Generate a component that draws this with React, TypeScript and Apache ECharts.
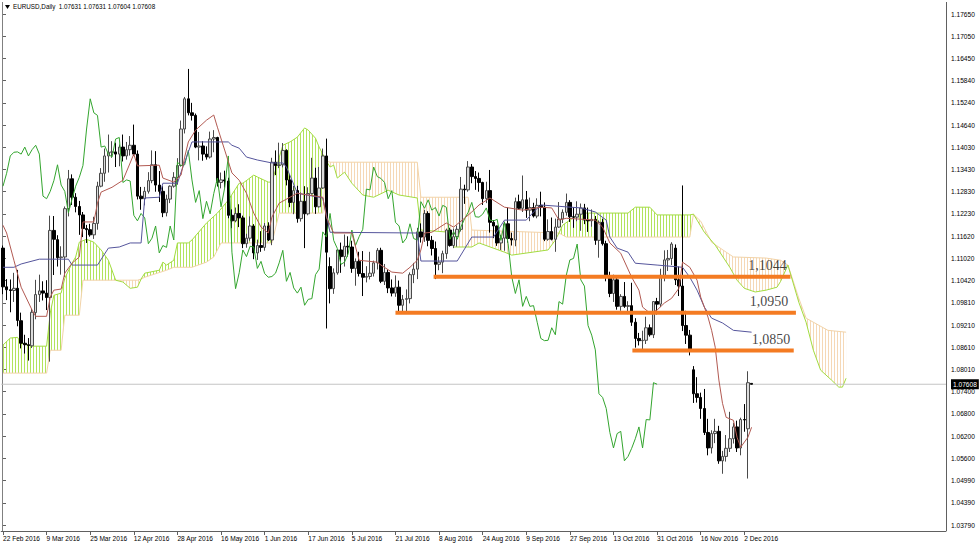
import React, { useEffect, useRef } from "react";
import * as echarts from "echarts";

// x-axis labels every 12 trading days starting 22 Feb 2016
const tickLabels = [
  "22 Feb 2016", "9 Mar 2016", "25 Mar 2016", "12 Apr 2016", "28 Apr 2016", "16 May 2016",
  "1 Jun 2016", "17 Jun 2016", "5 Jul 2016", "21 Jul 2016", "8 Aug 2016", "24 Aug 2016",
  "9 Sep 2016", "27 Sep 2016", "13 Oct 2016", "31 Oct 2016", "16 Nov 2016", "2 Dec 2016",
];
const TICK_STEP = 12;
const SLOT_COUNT = 260;

// right price scale labels (bottom to top)
const yTickLabels = [
  "1.03790", "1.04390", "1.04990", "1.05600", "1.06200", "1.06800", "1.07400", "1.08010",
  "1.08610", "1.09210", "1.09810", "1.10420", "1.11020", "1.11620", "1.12230", "1.12830",
  "1.13430", "1.14030", "1.14640", "1.15240", "1.15840", "1.16450", "1.17050", "1.17650",
];

// daily candles [open, high, low, close], 22 Feb 2016 .. 6 Dec 2016
const ohlc: number[][] = [
  [1.1130, 1.1137, 1.1005, 1.1025], [1.1025, 1.1046, 1.0989, 1.1017], [1.1017, 1.1045, 1.0956, 1.1015],
  [1.1015, 1.1063, 1.0984, 1.1021], [1.1021, 1.1071, 1.0918, 1.0934], [1.0933, 1.0955, 1.0858, 1.0872],
  [1.0872, 1.0895, 1.0844, 1.0868], [1.0868, 1.0886, 1.0825, 1.0866], [1.0865, 1.0965, 1.0859, 1.0956],
  [1.0955, 1.1044, 1.0937, 1.1004], [1.1004, 1.1058, 1.0984, 1.1014], [1.1014, 1.1040, 1.0988, 1.1008],
  [1.1008, 1.1043, 1.0962, 1.0996], [1.0996, 1.1218, 1.0822, 1.1178], [1.1178, 1.1217, 1.1057, 1.1154],
  [1.1153, 1.1165, 1.1080, 1.1104], [1.1104, 1.1135, 1.1058, 1.1106], [1.1106, 1.1243, 1.1052, 1.1237],
  [1.1237, 1.1342, 1.1216, 1.1318], [1.1318, 1.1330, 1.1247, 1.1268], [1.1268, 1.1279, 1.1227, 1.1243],
  [1.1243, 1.1258, 1.1166, 1.1220], [1.1220, 1.1228, 1.1160, 1.1183], [1.1183, 1.1193, 1.1144, 1.1180],
  [1.1180, 1.1196, 1.1161, 1.1166], [1.1166, 1.1215, 1.1155, 1.1197], [1.1197, 1.1310, 1.1180, 1.1298],
  [1.1298, 1.1347, 1.1295, 1.1333], [1.1333, 1.1400, 1.1310, 1.1380], [1.1380, 1.1438, 1.1335, 1.1390],
  [1.1390, 1.1420, 1.1375, 1.1391], [1.1391, 1.1416, 1.1350, 1.1385], [1.1385, 1.1411, 1.1352, 1.1404],
  [1.1404, 1.1438, 1.1365, 1.1380], [1.1380, 1.1418, 1.1370, 1.1397], [1.1397, 1.1434, 1.1381, 1.1409],
  [1.1409, 1.1465, 1.1380, 1.1385], [1.1385, 1.1395, 1.1262, 1.1271], [1.1271, 1.1296, 1.1234, 1.1264],
  [1.1264, 1.1296, 1.1246, 1.1284], [1.1284, 1.1336, 1.1278, 1.1313], [1.1313, 1.1395, 1.1306, 1.1356],
  [1.1356, 1.1393, 1.1283, 1.1301], [1.1301, 1.1339, 1.1255, 1.1284], [1.1284, 1.1298, 1.1214, 1.1226],
  [1.1226, 1.1275, 1.1216, 1.1263], [1.1263, 1.1300, 1.1252, 1.1298], [1.1298, 1.1336, 1.1294, 1.1322],
  [1.1322, 1.1374, 1.1302, 1.1354], [1.1354, 1.1476, 1.1351, 1.1453], [1.1453, 1.1540, 1.1441, 1.1535],
  [1.1535, 1.1616, 1.1490, 1.1497], [1.1497, 1.1524, 1.1476, 1.1490], [1.1490, 1.1495, 1.1401, 1.1404],
  [1.1404, 1.1445, 1.1368, 1.1407], [1.1407, 1.1420, 1.1367, 1.1385], [1.1385, 1.1406, 1.1370, 1.1377],
  [1.1377, 1.1446, 1.1373, 1.1426], [1.1426, 1.1450, 1.1390, 1.1430], [1.1430, 1.1432, 1.1297, 1.1308],
  [1.1308, 1.1335, 1.1292, 1.1315], [1.1315, 1.1340, 1.1294, 1.1312], [1.1312, 1.1321, 1.1211, 1.1219],
  [1.1219, 1.1235, 1.1184, 1.1204], [1.1204, 1.1240, 1.1200, 1.1224], [1.1224, 1.1249, 1.1187, 1.1212],
  [1.1212, 1.1218, 1.1130, 1.1142], [1.1142, 1.1169, 1.1131, 1.1157], [1.1157, 1.1216, 1.1150, 1.1190],
  [1.1190, 1.1195, 1.1100, 1.1117], [1.1117, 1.1153, 1.1098, 1.1137], [1.1137, 1.1176, 1.1120, 1.1132],
  [1.1132, 1.1198, 1.1123, 1.1190], [1.1190, 1.1200, 1.1149, 1.1152], [1.1152, 1.1375, 1.1138, 1.1363],
  [1.1363, 1.1395, 1.1328, 1.1354], [1.1354, 1.1416, 1.1347, 1.1356], [1.1356, 1.1415, 1.1349, 1.1395],
  [1.1395, 1.1398, 1.1300, 1.1315], [1.1315, 1.1331, 1.1241, 1.1254], [1.1254, 1.1299, 1.1222, 1.1286],
  [1.1286, 1.1299, 1.1199, 1.1210], [1.1210, 1.1281, 1.1202, 1.1257], [1.1257, 1.1298, 1.1130, 1.1223],
  [1.1223, 1.1295, 1.1219, 1.1278], [1.1278, 1.1375, 1.1275, 1.1320], [1.1320, 1.1348, 1.1223, 1.1242],
  [1.1242, 1.1350, 1.1240, 1.1293], [1.1293, 1.1400, 1.1291, 1.1380], [1.1380, 1.1427, 1.0912, 1.1119],
  [1.1080, 1.1105, 1.0980, 1.1020], [1.1020, 1.1075, 1.1006, 1.1063], [1.1063, 1.1127, 1.1058, 1.1125],
  [1.1125, 1.1145, 1.1063, 1.1107], [1.1107, 1.1167, 1.1080, 1.1135], [1.1135, 1.1162, 1.1107, 1.1133],
  [1.1133, 1.1150, 1.1063, 1.1075], [1.1075, 1.1102, 1.1028, 1.1094], [1.1094, 1.1120, 1.1053, 1.1061],
  [1.1061, 1.1122, 1.1000, 1.1051], [1.1051, 1.1081, 1.1037, 1.1053], [1.1053, 1.1120, 1.1045, 1.1062],
  [1.1062, 1.1096, 1.1053, 1.1090], [1.1090, 1.1130, 1.1072, 1.1124], [1.1124, 1.1131, 1.1035, 1.1040],
  [1.1040, 1.1087, 1.1030, 1.1064], [1.1064, 1.1072, 1.1008, 1.1022], [1.1022, 1.1045, 1.0999, 1.1008],
  [1.1008, 1.1056, 1.0998, 1.1024], [1.1024, 1.1042, 1.0953, 1.0975], [1.0975, 1.1003, 1.0955, 1.0991],
  [1.0991, 1.1018, 1.0952, 1.0993], [1.0993, 1.1064, 1.0980, 1.1058], [1.1058, 1.1090, 1.1035, 1.1073],
  [1.1073, 1.1185, 1.1046, 1.1174], [1.1174, 1.1197, 1.1145, 1.1160], [1.1160, 1.1234, 1.1147, 1.1224],
  [1.1224, 1.1230, 1.1135, 1.1151], [1.1151, 1.1163, 1.1110, 1.1129], [1.1129, 1.1148, 1.1046, 1.1086],
  [1.1086, 1.1107, 1.1070, 1.1092], [1.1092, 1.1123, 1.1062, 1.1115], [1.1115, 1.1183, 1.1101, 1.1179],
  [1.1179, 1.1185, 1.1134, 1.1137], [1.1137, 1.1183, 1.1130, 1.1161], [1.1161, 1.1191, 1.1134, 1.1181],
  [1.1181, 1.1323, 1.1175, 1.1290], [1.1290, 1.1302, 1.1250, 1.1288], [1.1288, 1.1366, 1.1283, 1.1350],
  [1.1350, 1.1358, 1.1306, 1.1324], [1.1324, 1.1339, 1.1288, 1.1319], [1.1319, 1.1335, 1.1283, 1.1308],
  [1.1308, 1.1310, 1.1247, 1.1264], [1.1264, 1.1310, 1.1252, 1.1286], [1.1286, 1.1342, 1.1172, 1.1200],
  [1.1200, 1.1206, 1.1157, 1.1190], [1.1190, 1.1191, 1.1136, 1.1144], [1.1144, 1.1166, 1.1125, 1.1157],
  [1.1157, 1.1202, 1.1123, 1.1196], [1.1196, 1.1240, 1.1145, 1.1156], [1.1156, 1.1172, 1.1137, 1.1152],
  [1.1152, 1.1267, 1.1135, 1.1256], [1.1256, 1.1275, 1.1235, 1.1238], [1.1238, 1.1327, 1.1228, 1.1261],
  [1.1261, 1.1285, 1.1212, 1.1233], [1.1233, 1.1267, 1.1203, 1.1240], [1.1240, 1.1253, 1.1213, 1.1217],
  [1.1217, 1.1265, 1.1211, 1.1246], [1.1246, 1.1283, 1.1216, 1.1241], [1.1241, 1.1254, 1.1149, 1.1154],
  [1.1154, 1.1208, 1.1150, 1.1175], [1.1175, 1.1213, 1.1151, 1.1154], [1.1154, 1.1210, 1.1120, 1.1187],
  [1.1187, 1.1255, 1.1185, 1.1209], [1.1209, 1.1235, 1.1198, 1.1227], [1.1227, 1.1278, 1.1218, 1.1254],
  [1.1254, 1.1260, 1.1201, 1.1215], [1.1215, 1.1241, 1.1185, 1.1214], [1.1214, 1.1257, 1.1203, 1.1222],
  [1.1222, 1.1251, 1.1177, 1.1239], [1.1239, 1.1250, 1.1195, 1.1206], [1.1206, 1.1240, 1.1174, 1.1204],
  [1.1204, 1.1235, 1.1188, 1.1208], [1.1208, 1.1217, 1.1139, 1.1151], [1.1151, 1.1205, 1.1104, 1.1200],
  [1.1200, 1.1210, 1.1137, 1.1142], [1.1142, 1.1150, 1.1040, 1.1052], [1.1052, 1.1066, 1.0997, 1.1007],
  [1.1007, 1.1058, 1.0984, 1.1044], [1.1044, 1.1050, 1.0963, 1.0972], [1.0972, 1.1005, 1.0960, 1.0999],
  [1.0999, 1.1038, 1.0968, 1.0972], [1.0972, 1.0986, 1.0951, 1.0974], [1.0974, 1.1036, 1.0919, 1.0929],
  [1.0929, 1.0940, 1.0860, 1.0885], [1.0885, 1.0900, 1.0866, 1.0879], [1.0879, 1.0906, 1.0851, 1.0880],
  [1.0880, 1.0944, 1.0870, 1.0914], [1.0914, 1.0923, 1.0890, 1.0895], [1.0895, 1.0986, 1.0886, 1.0985],
  [1.0985, 1.0995, 1.0950, 1.0978], [1.0978, 1.1074, 1.0970, 1.1056], [1.1056, 1.1124, 1.1040, 1.1098],
  [1.1098, 1.1125, 1.1068, 1.1102], [1.1102, 1.1146, 1.1084, 1.1141], [1.1130, 1.1140, 1.1030, 1.1044],
  [1.1044, 1.1080, 1.1000, 1.1027], [1.1027, 1.1300, 1.0905, 1.0920], [1.0920, 1.0960, 1.0870, 1.0894],
  [1.0894, 1.0908, 1.0839, 1.0854], [1.0800, 1.0810, 1.0710, 1.0735], [1.0735, 1.0780, 1.0711, 1.0725],
  [1.0725, 1.0738, 1.0667, 1.0695], [1.0695, 1.0748, 1.0623, 1.0630], [1.0630, 1.0667, 1.0568, 1.0588],
  [1.0588, 1.0636, 1.0573, 1.0627], [1.0627, 1.0667, 1.0601, 1.0633], [1.0633, 1.0648, 1.0545, 1.0553],
  [1.0553, 1.0580, 1.0518, 1.0565], [1.0565, 1.0623, 1.0551, 1.0587], [1.0587, 1.0686, 1.0577, 1.0613],
  [1.0613, 1.0656, 1.0600, 1.0645], [1.0645, 1.0662, 1.0577, 1.0588], [1.0588, 1.0670, 1.0568, 1.0665],
  [1.0665, 1.0707, 1.0632, 1.0664], [1.0640, 1.0796, 1.0505, 1.0765], [1.07631, 1.07631, 1.07604, 1.07608],
];
const lastPrice = 1.07608;
const CHIKOU_SHIFT = 26;

// Tenkan-sen vertices [bar index, price]
const tenkan: number[][] = [
  [0, 1.1192], [1, 1.1171], [3, 1.1097], [5, 1.1024], [8, 1.0962], [9, 1.0945], [12, 1.0945], [13, 1.0997],
  [14, 1.1016], [16, 1.1019], [17, 1.1062], [19, 1.1089], [21, 1.1106], [22, 1.1201], [25, 1.1201], [26, 1.1252],
  [27, 1.1282], [30, 1.1295], [33, 1.1314], [36, 1.1385], [37, 1.1353], [43, 1.1355], [44, 1.1320], [47, 1.1309],
  [49, 1.1328], [50, 1.1377], [51, 1.1418], [53, 1.1450], [56, 1.1477], [58, 1.1491], [59, 1.1458], [61, 1.1396],
  [63, 1.1334], [65, 1.1314], [67, 1.1279], [69, 1.1225], [71, 1.1187], [73, 1.1171], [74, 1.1214], [76, 1.1252],
  [81, 1.1279], [84, 1.1274], [88, 1.1268], [89, 1.1214], [91, 1.1171], [96, 1.1171], [98, 1.1097], [103, 1.1092],
  [104, 1.1084], [107, 1.1065], [110, 1.1062], [112, 1.1078], [114, 1.1097], [115, 1.1125], [116, 1.1171],
  [118, 1.1173], [122, 1.1198], [124, 1.1187], [127, 1.1211], [129, 1.1228], [131, 1.1247], [134, 1.1266],
  [138, 1.1241], [143, 1.1233], [148, 1.1241], [151, 1.1239], [153, 1.1206], [155, 1.1211], [163, 1.1206],
  [165, 1.1187], [167, 1.1144], [170, 1.1116], [173, 1.1051], [175, 1.1016], [176, 1.0970], [178, 1.0954],
  [180, 1.0962], [182, 1.0981], [184, 1.0994], [186, 1.1021], [187, 1.1092], [189, 1.1078], [191, 1.1043],
  [192, 1.0997], [194, 1.0943], [195, 1.0907], [196, 1.0861], [197, 1.0772], [198, 1.0709], [199, 1.0671],
  [201, 1.0663], [202, 1.0617], [203, 1.0590], [205, 1.0617], [206, 1.0644],
];

// Kijun-sen vertices [bar index, price]
const kijun: number[][] = [
  [0, 1.1078], [3, 1.1078], [5, 1.1087], [10, 1.1100], [18, 1.1100], [19, 1.1084], [26, 1.1084], [29, 1.1130],
  [32, 1.1133], [35, 1.1144], [38, 1.1144], [39, 1.1266], [43, 1.1268], [44, 1.1306], [48, 1.1306], [49, 1.1336],
  [52, 1.1418], [62, 1.1418], [63, 1.1409], [65, 1.1401], [67, 1.1377], [70, 1.1369], [74, 1.1361], [77, 1.1361],
  [78, 1.1350], [81, 1.1279], [88, 1.1266], [90, 1.1173], [114, 1.1171], [115, 1.1095], [125, 1.1095],
  [129, 1.1160], [135, 1.1160], [138, 1.1206], [144, 1.1206], [146, 1.1228], [148, 1.1247], [159, 1.1239],
  [163, 1.1228], [166, 1.1206], [167, 1.1160], [169, 1.1130], [172, 1.1119], [174, 1.1089], [180, 1.1084],
  [187, 1.1078], [189, 1.1051], [191, 1.1016], [193, 1.0970], [195, 1.0940], [198, 1.0927], [201, 1.0907],
  [206, 1.0902],
];

// Kumo (cloud): Senkou Span A / B vertices per segment, and which side is on top
const cloudKinds = ["up", "down", "up", "down", "up", "down"];
const spanASegments: number[][][] = [
  [[0, 1.0867], [2, 1.0886], [4, 1.0888], [5, 1.0872], [8, 1.0864], [12, 1.0864], [13, 1.0954], [14, 1.1002],
   [16, 1.1008], [17, 1.1048], [19, 1.1089], [20, 1.1106], [21, 1.1146], [23, 1.1154], [25, 1.1146], [27, 1.1125],
   [29, 1.1097], [31, 1.1043]],
  [[31, 1.1043], [33, 1.1038], [35, 1.1021], [37, 1.1024], [38, 1.1046]],
  [[38, 1.1046], [39, 1.1062], [43, 1.1070], [44, 1.1092], [45, 1.1084], [47, 1.1097], [48, 1.1144], [51, 1.1144],
   [52, 1.1152], [56, 1.1198], [59, 1.1225], [62, 1.1260], [65, 1.1306], [66, 1.1306], [69, 1.1328], [70, 1.1323],
   [73, 1.1309], [74, 1.1309], [77, 1.1409], [79, 1.1418], [81, 1.1431], [83, 1.1456], [84, 1.1450], [86, 1.1428],
   [87, 1.1404], [89, 1.1366]],
  [[89, 1.1366], [90, 1.1350], [91, 1.1355], [92, 1.1320], [94, 1.1336], [96, 1.1306], [99, 1.1274], [102, 1.1268],
   [106, 1.1287], [109, 1.1274], [114, 1.1266], [115, 1.1179], [123, 1.1173], [124, 1.1133], [129, 1.1133],
   [131, 1.1144], [138, 1.1119], [140, 1.1111], [150, 1.1125], [152, 1.1152], [153, 1.1171]],
  [[153, 1.1171], [154, 1.1192], [156, 1.1206], [159, 1.1225], [172, 1.1225], [174, 1.1241], [178, 1.1241],
   [180, 1.1220], [189, 1.1220], [190, 1.1222]],
  [[190, 1.1222], [191, 1.1206], [193, 1.1173], [196, 1.1138], [200, 1.1078], [202, 1.1043], [204, 1.1021],
   [207, 1.1011], [210, 1.1016], [213, 1.1024], [214, 1.1040], [216, 1.1084], [219, 1.0983], [221, 1.0929],
   [223, 1.0853], [225, 1.0799], [228, 1.0772], [230, 1.0753], [231, 1.0753], [232, 1.0777]],
];
const spanBSegments: number[][][] = [
  [[0, 1.0791], [12, 1.0791], [13, 1.0853], [16, 1.0853], [17, 1.0948], [21, 1.0948], [22, 1.1043], [31, 1.1043]],
  [[31, 1.1043], [37, 1.1043], [38, 1.1046]],
  [[38, 1.1046], [39, 1.1051], [45, 1.1070], [47, 1.1078], [52, 1.1078], [56, 1.1092], [58, 1.1106], [60, 1.1144],
   [74, 1.1144], [76, 1.1225], [88, 1.1225], [89, 1.1366]],
  [[89, 1.1366], [90, 1.1363], [114, 1.1363], [115, 1.1268], [128, 1.1268], [129, 1.1179], [153, 1.1171]],
  [[153, 1.1171], [155, 1.1160], [189, 1.1160], [190, 1.1222]],
  [[190, 1.1222], [192, 1.1203], [195, 1.1146], [199, 1.1119], [201, 1.1106], [210, 1.1103], [214, 1.1097],
   [216, 1.1084], [219, 1.0994], [221, 1.0940], [223, 1.0929], [227, 1.0907], [232, 1.0902]],
];

// hand-drawn horizontal levels
const levelPrices = [1.1052, 1.0955, 1.0852];
const levelStart = [118.5, 108, 173.2];
const levelEnd = [216.7, 218.2, 217.6];
const levelLabelAt = [215.8, 216.2, 216.8];
const levelLabels = ["1,1044", "1,0950", "1,0850"];

const FONT = "Liberation Sans, Arial, sans-serif";

function joinSegments(segs: number[][][]): number[][] {
  const out: number[][] = [];
  segs.forEach((s, k) => (k === 0 ? s : s.slice(1)).forEach((p) => out.push(p)));
  return out;
}

function makeHatch(color: string) {
  const c = document.createElement("canvas");
  c.width = 3;
  c.height = 3;
  const ctx = c.getContext("2d")!;
  ctx.fillStyle = color;
  ctx.fillRect(0, 0, 1, 3);
  return { image: c, repeat: "repeat" };
}

export default function App() {
  const ref = useRef<HTMLDivElement>(null);

  useEffect(() => {
    if (!ref.current) return;
    const chart = echarts.init(ref.current, null, { renderer: "svg" });
    const greenHatch = makeHatch("#b2e35c");
    const tanHatch = makeHatch("#f5d8b6");

    const yMin = Number(yTickLabels[0]);
    const yMax = Number(yTickLabels[yTickLabels.length - 1]);
    const yInterval = (yMax - yMin) / (yTickLabels.length - 1);

    const categories = Array.from({ length: SLOT_COUNT }, (_, i) => String(i));
    const showTick = (i: number) => i % TICK_STEP === 0 && i / TICK_STEP < tickLabels.length;

    const closes = ohlc.map((d) => d[3]);
    const chikou = closes.slice(CHIKOU_SHIFT).map((c, i) => [i, c]);

    const series: any[] = [
      {
        type: "custom",
        name: "kumo",
        xAxisIndex: 1,
        yAxisIndex: 0,
        clip: false,
        silent: true,
        z: 1,
        data: spanASegments.map((s) => [s[0][0], s[0][1]]),
        renderItem: (params: any, api: any) => {
          const i = params.dataIndex;
          const pts = spanASegments[i]
            .map((p) => api.coord(p))
            .concat(spanBSegments[i].slice().reverse().map((p) => api.coord(p)));
          return {
            type: "polygon",
            shape: { points: pts },
            style: { fill: cloudKinds[i] === "up" ? greenHatch : tanHatch, stroke: null },
          };
        },
      },
      {
        type: "line",
        name: "Senkou Span B",
        xAxisIndex: 1,
        data: joinSegments(spanBSegments),
        symbol: "none",
        lineStyle: { color: "#f2d3a8", width: 1 },
        z: 2,
      },
      {
        type: "line",
        name: "Senkou Span A",
        xAxisIndex: 1,
        data: joinSegments(spanASegments),
        symbol: "none",
        lineStyle: { color: "#a2dc40", width: 1 },
        z: 2,
      },
      {
        type: "line",
        name: "Bid",
        xAxisIndex: 1,
        data: [[-0.5, lastPrice], [SLOT_COUNT - 0.5, lastPrice]],
        symbol: "none",
        silent: true,
        lineStyle: { color: "#c4c4c4", width: 1 },
        z: 2,
        endLabel: {
          show: true,
          formatter: () => lastPrice.toFixed(5),
          backgroundColor: "#000",
          color: "#fff",
          fontSize: 6.6,
          fontFamily: FONT,
          padding: [2, 2, 1, 2],
          distance: 5,
        },
      },
      {
        type: "candlestick",
        name: "EURUSD",
        xAxisIndex: 0,
        yAxisIndex: 0,
        data: ohlc.map(([o, h, l, c]) => [o, c, l, h]),
        barWidth: 3,
        itemStyle: {
          color: "#dcdcdc",
          color0: "#000000",
          borderColor: "#4a4a4a",
          borderColor0: "#000000",
          borderWidth: 1,
        },
        z: 3,
      },
      {
        type: "line",
        name: "Chikou Span",
        xAxisIndex: 1,
        data: chikou,
        symbol: "none",
        lineStyle: { color: "#33a52e", width: 1 },
        z: 4,
      },
      {
        type: "line",
        name: "Kijun-sen",
        xAxisIndex: 1,
        data: kijun,
        symbol: "none",
        lineStyle: { color: "#55559c", width: 1 },
        z: 4,
      },
      {
        type: "line",
        name: "Tenkan-sen",
        xAxisIndex: 1,
        data: tenkan,
        symbol: "none",
        lineStyle: { color: "#b25a52", width: 1 },
        z: 4,
      },
    ];

    levelPrices.forEach((v, i) => {
      series.push({
        type: "line",
        name: "level " + levelLabels[i],
        xAxisIndex: 1,
        data: [[levelStart[i], v], [levelEnd[i], v]],
        symbol: "none",
        lineStyle: { color: "#f47b22", width: 4 },
        z: 5,
      });
    });
    series.push({
      type: "scatter",
      name: "level labels",
      xAxisIndex: 1,
      symbolSize: 1,
      itemStyle: { color: "rgba(0,0,0,0)" },
      data: levelPrices.map((v, i) => [levelLabelAt[i], v]),
      label: {
        show: true,
        formatter: (p: any) => levelLabels[p.dataIndex],
        position: [0, -11],
        align: "right",
        verticalAlign: "middle",
        fontFamily: "Liberation Serif, Times New Roman, serif",
        fontSize: 14,
        color: "#111",
      },
      z: 6,
    });

    const option: any = {
      animation: false,
      backgroundColor: "#ffffff",
      grid: { left: 0, right: 34, top: 14, bottom: 22, containLabel: false },
      xAxis: [
        {
          type: "category",
          gridIndex: 0,
          data: categories,
          boundaryGap: true,
          position: "bottom",
          offset: 6,
          axisLine: { show: true, lineStyle: { color: "#606060", width: 1 } },
          axisTick: {
            show: true,
            alignWithLabel: true,
            interval: showTick,
            length: 4,
            lineStyle: { color: "#606060" },
          },
          axisLabel: {
            show: true,
            interval: showTick,
            formatter: (v: string) => {
              const i = Number(v);
              return i % TICK_STEP === 0 ? tickLabels[i / TICK_STEP] ?? "" : "";
            },
            align: "left",
            margin: 4,
            fontSize: 6.6,
            fontFamily: FONT,
            color: "#000",
          },
          splitLine: { show: false },
        },
        { type: "value", gridIndex: 0, min: -0.5, max: SLOT_COUNT - 0.5, show: false },
      ],
      yAxis: [
        {
          type: "value",
          position: "right",
          min: yMin,
          max: yMax,
          interval: yInterval,
          axisLine: { show: false },
          axisTick: { show: true, length: 3, lineStyle: { color: "#606060" } },
          axisLabel: {
            show: true,
            margin: 5,
            fontSize: 6.6,
            fontFamily: FONT,
            color: "#000",
            formatter: (v: number) => {
              const k = Math.round((v - yMin) / yInterval);
              return yTickLabels[k] ?? "";
            },
          },
          splitLine: { show: false },
        },
      ],
      graphic: [
        { type: "line", shape: { x1: 2.5, y1: 2, x2: 2.5, y2: 531 }, style: { stroke: "#808080", lineWidth: 1 }, silent: true },
        { type: "line", shape: { x1: 946.5, y1: 2, x2: 946.5, y2: 531 }, style: { stroke: "#606060", lineWidth: 1 }, silent: true },
        { type: "polygon", shape: { points: [[5, 5], [10, 5], [7.5, 9]] }, style: { fill: "#000" }, silent: true },
        {
          type: "text",
          x: 13,
          y: 3.5,
          style: {
            text: "EURUSD,Daily  1.07631 1.07631 1.07604 1.07608",
            fontSize: 6.3,
            fontFamily: FONT,
            fill: "#000",
          },
          silent: true,
        },
      ],
      series,
    };

    chart.setOption(option);
    return () => chart.dispose();
  }, []);

  return (
    <div
      ref={ref}
      style={{ position: "absolute", left: 0, top: 0, width: 980, height: 547, background: "#fff" }}
    />
  );
}
